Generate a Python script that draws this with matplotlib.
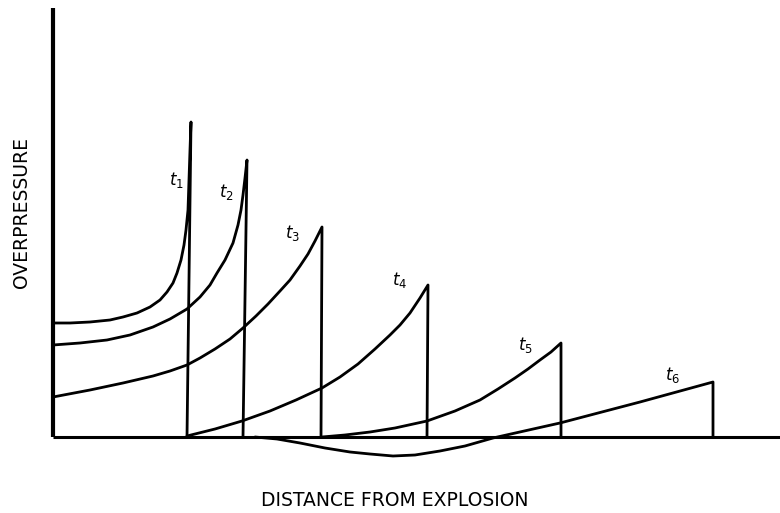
import matplotlib
matplotlib.use("Agg")
import matplotlib.pyplot as plt

# wave profiles (distance, overpressure); last point = shock front foot
t1_x = [0, 17, 37, 57, 70, 84, 97, 107, 114, 120, 124, 128, 131, 133, 135, 136, 137, 138, 134]
t1_y = [114, 114, 115, 117, 120, 124, 130, 137, 145, 154, 164, 177, 192, 207, 227, 257, 287, 315, 0]
t2_x = [0, 27, 54, 77, 100, 117, 134, 147, 157, 164, 172, 180, 185, 188, 190, 192, 194, 190]
t2_y = [92, 94, 97, 102, 110, 118, 128, 140, 152, 164, 177, 194, 212, 227, 242, 259, 277, 0]
t3_x = [0, 37, 70, 100, 117, 134, 147, 162, 177, 190, 203, 215, 227, 237, 247, 255, 262, 269, 268]
t3_y = [40, 47, 54, 61, 66, 72, 79, 88, 98, 109, 121, 133, 146, 157, 171, 183, 196, 210, 0]
t4_x = [134, 162, 189, 217, 243, 269, 287, 305, 322, 337, 347, 357, 367, 375, 374]
t4_y = [1, 8, 16, 26, 37, 49, 60, 73, 88, 102, 112, 124, 139, 152, 0]
t5_x = [269, 292, 317, 342, 374, 402, 427, 445, 462, 475, 487, 498, 508, 508]
t5_y = [0, 2, 5, 9, 16, 26, 37, 48, 59, 68, 77, 85, 94, 0]
t6_x = [202, 224, 247, 272, 297, 317, 340, 362, 387, 412, 440, 507, 587, 660, 660]
t6_y = [0, -2, -6, -11, -15, -17, -19, -18, -14, -9, -1, 14, 35, 55, 0]

labels = ["1", "2", "3", "4", "5", "6"]
label_x = [123, 173, 240, 347, 472, 620]
label_y = [257, 245, 204, 157, 92, 62]

plt.rcParams["mathtext.fontset"] = "dejavusans"

fig = plt.figure(figsize=(7.8, 5.13), dpi=100)
ax = fig.add_axes([0, 0, 1, 1])
ax.set_xlim(-53, 727)
ax.set_ylim(-76, 437)
ax.axis("off")

lw = 2.0
for xs, ys in [(t1_x, t1_y), (t2_x, t2_y), (t3_x, t3_y), (t4_x, t4_y), (t5_x, t5_y), (t6_x, t6_y)]:
    ax.plot(xs, ys, color="black", lw=lw, solid_joinstyle="round", solid_capstyle="round")

# axes
ax.plot([0, 727], [0, 0], color="black", lw=2.2, solid_capstyle="butt")
ax.plot([0, 0], [0, 429], color="black", lw=3.0, solid_capstyle="butt")

for lab, lx, ly in zip(labels, label_x, label_y):
    ax.text(lx, ly, r"$\mathit{t}_{" + lab + "}$", fontsize=12, ha="center", va="center")

ax.text(342, -64, "DISTANCE FROM EXPLOSION", fontsize=13.5, ha="center", va="center",
        family="DejaVu Sans")
ax.text(-31, 225, "OVERPRESSURE", fontsize=13.5, ha="center", va="center",
        rotation=90, family="DejaVu Sans")

fig.savefig("out.png", dpi=100)
